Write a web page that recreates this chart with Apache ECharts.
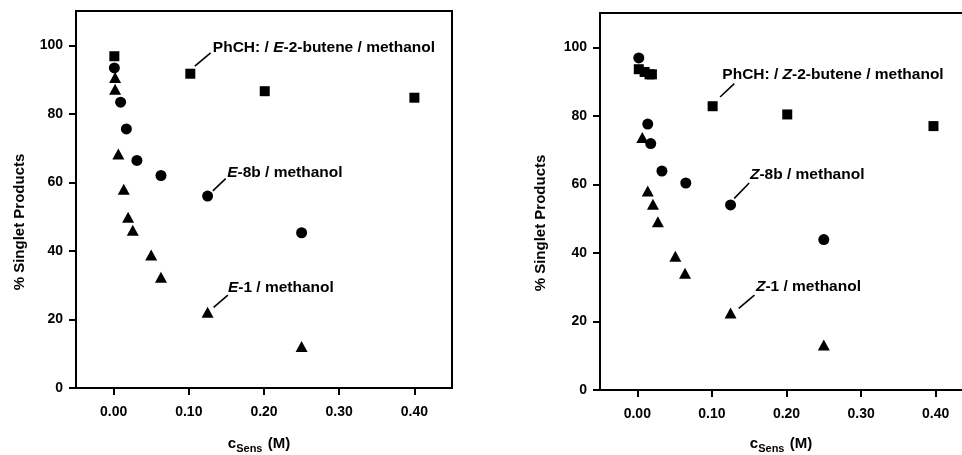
<!DOCTYPE html>
<html>
<head>
<meta charset="utf-8">
<script src="https://cdn.jsdelivr.net/npm/echarts@6/dist/echarts.min.js"></script>
<style>
html,body{margin:0;padding:0;background:#fff;}
#c{width:962px;height:455px;}
</style>
</head>
<body>
<div id="c"></div>
<script>
// ---- data ----
const xTickValues = [0, 0.1, 0.2, 0.3, 0.4];
const yTickValues = [0, 20, 40, 60, 80, 100];
const xRange = [-0.05, 0.45];
const yRange = [0, 110];

// Left panel (E isomers)
const leftSquareX = [0.001, 0.102, 0.201, 0.400];
const leftSquareY = [96.8, 91.7, 86.6, 84.7];
const leftCircleX = [0.001, 0.0093, 0.017, 0.031, 0.063, 0.125, 0.250];
const leftCircleY = [93.4, 83.4, 75.6, 66.4, 62.0, 56.0, 45.3];
const leftTriX = [0.002, 0.002, 0.0063, 0.0135, 0.0193, 0.0255, 0.050, 0.063, 0.125, 0.250];
const leftTriY = [90.6, 87.2, 68.3, 58.0, 49.8, 46.0, 38.8, 32.3, 22.1, 12.1];

// Right panel (Z isomers)
const rightSquareX = [0.002, 0.0098, 0.0164, 0.0196, 0.101, 0.201, 0.397];
const rightSquareY = [93.6, 92.8, 92.1, 92.1, 82.8, 80.4, 77.0];
const rightCircleX = [0.002, 0.014, 0.018, 0.033, 0.065, 0.125, 0.250];
const rightCircleY = [96.9, 77.6, 71.9, 63.9, 60.4, 54.0, 43.9];
const rightTriX = [0.0067, 0.014, 0.021, 0.0276, 0.051, 0.064, 0.125, 0.250];
const rightTriY = [73.7, 58.1, 54.2, 49.1, 39.0, 34.1, 22.5, 13.1];

// Annotation labels: [prefix, italic isomer letter, rest]
const leftLabels = [['PhCH: / ', 'E', '-2-butene / methanol'], ['', 'E', '-8b / methanol'], ['', 'E', '-1 / methanol']];
const rightLabels = [['PhCH: / ', 'Z', '-2-butene / methanol'], ['', 'Z', '-8b / methanol'], ['', 'Z', '-1 / methanol']];
// anchor (data coords) of each label's start
const leftLabelX = [0.132, 0.151, 0.152];
const leftLabelY = [99.4, 62.7, 29.4];
const rightLabelX = [0.114, 0.151, 0.159];
const rightLabelY = [92.1, 62.7, 30.0];
// leader lines (data coords)
const leftLeaderX1 = [0.108, 0.132, 0.133];
const leftLeaderY1 = [93.9, 57.5, 23.5];
const leftLeaderX2 = [0.129, 0.149, 0.152];
const leftLeaderY2 = [97.8, 61.1, 27.1];
const rightLeaderX1 = [0.111, 0.130, 0.136];
const rightLeaderY1 = [85.5, 55.9, 23.8];
const rightLeaderX2 = [0.130, 0.150, 0.157];
const rightLeaderY2 = [89.4, 60.4, 27.7];

const yTitle = '% Singlet Products';

// ---- build ----
const FONT = "'Liberation Sans', Arial, Helvetica, sans-serif";
const zip = (a, b) => a.map((v, i) => [v, b[i]]);

function axesFor(idx) {
  return {
    x: {
      type: 'value', gridIndex: idx, min: xRange[0], max: xRange[1],
      axisLine: { show: true, onZero: false, lineStyle: { color: '#000', width: 2 } },
      axisTick: { show: true, inside: false, length: 7, customValues: xTickValues, lineStyle: { color: '#000', width: 2 } },
      axisLabel: { show: true, customValues: xTickValues, margin: 17, color: '#000', fontFamily: FONT, fontWeight: 'bold', fontSize: 14,
        formatter: v => v.toFixed(2) },
      splitLine: { show: false }
    },
    y: {
      type: 'value', gridIndex: idx, min: yRange[0], max: yRange[1],
      axisLine: { show: true, onZero: false, lineStyle: { color: '#000', width: 2 } },
      axisTick: { show: true, inside: false, length: 7, customValues: yTickValues, lineStyle: { color: '#000', width: 2 } },
      axisLabel: { show: true, customValues: yTickValues, margin: 13, color: '#000', fontFamily: FONT, fontWeight: 'bold', fontSize: 14 },
      splitLine: { show: false }
    }
  };
}

const a0 = axesFor(0), a1 = axesFor(1);

function markerSeries(idx, xs, ys, symbol, size) {
  return { type: 'scatter', xAxisIndex: idx, yAxisIndex: idx, symbol: symbol, symbolSize: size,
    itemStyle: { color: '#000', opacity: 1 }, data: zip(xs, ys), silent: true, z: 5 };
}

function leaderSeries(idx, x1, y1, x2, y2) {
  return x1.map((_, i) => ({
    type: 'line', xAxisIndex: idx, yAxisIndex: idx, symbol: 'none', silent: true,
    lineStyle: { color: '#000', width: 1.6, opacity: 1 },
    data: [[x1[i], y1[i]], [x2[i], y2[i]]]
  }));
}

function labelSeries(idx, xs, ys, labels) {
  return {
    type: 'scatter', xAxisIndex: idx, yAxisIndex: idx, symbolSize: 0, silent: true,
    itemStyle: { opacity: 1, color: '#000' },
    data: xs.map((x, i) => ({ value: [x, ys[i]], name: String(i) })),
    label: {
      show: true, position: 'right', distance: 0, color: '#000', opacity: 1,
      formatter: p => { const l = labels[+p.name]; return (l[0] ? '{n|' + l[0] + '}' : '') + '{i|' + l[1] + '}{n|' + l[2] + '}'; },
      rich: {
        n: { fontFamily: FONT, fontWeight: 'bold', fontSize: 15.5, color: '#000' },
        i: { fontFamily: FONT, fontWeight: 'bold', fontStyle: 'italic', fontSize: 15.5, color: '#000' }
      }
    }
  };
}

const series = [
  markerSeries(0, leftSquareX, leftSquareY, 'rect', 10),
  markerSeries(0, leftCircleX, leftCircleY, 'circle', 11),
  markerSeries(0, leftTriX, leftTriY, 'triangle', [12, 11]),
  markerSeries(1, rightSquareX, rightSquareY, 'rect', 10),
  markerSeries(1, rightCircleX, rightCircleY, 'circle', 11),
  markerSeries(1, rightTriX, rightTriY, 'triangle', [12, 11]),
  ...leaderSeries(0, leftLeaderX1, leftLeaderY1, leftLeaderX2, leftLeaderY2),
  ...leaderSeries(1, rightLeaderX1, rightLeaderY1, rightLeaderX2, rightLeaderY2),
  labelSeries(0, leftLabelX, leftLabelY, leftLabels),
  labelSeries(1, rightLabelX, rightLabelY, rightLabels)
];

function yTitleGraphic(x, y) {
  return { type: 'text', x: x, y: y, rotation: Math.PI / 2,
    style: { text: yTitle, align: 'center', verticalAlign: 'middle', fill: '#000', font: 'bold 15px ' + FONT } };
}
function xTitleGraphic(x, y) {
  return { type: 'text', x: x, y: y,
    style: { text: '{m|c}{s|Sens}{m| (M)}', align: 'center', verticalAlign: 'middle',
      rich: {
        m: { fontFamily: FONT, fontWeight: 'bold', fontSize: 15, fill: '#000', color: '#000' },
        s: { fontFamily: FONT, fontWeight: 'bold', fontSize: 11, fill: '#000', color: '#000', padding: [9, 1, 0, 0] }
      } } };
}

const option = {
  backgroundColor: '#fff',
  animation: false,
  grid: [
    { left: 76, top: 11, width: 376, height: 377, show: true, borderColor: '#000', borderWidth: 2, backgroundColor: 'transparent', outerBoundsMode: 'none', containLabel: false },
    { left: 600, top: 13, width: 373, height: 377, show: true, borderColor: '#000', borderWidth: 2, backgroundColor: 'transparent', outerBoundsMode: 'none', containLabel: false }
  ],
  xAxis: [a0.x, a1.x],
  yAxis: [a0.y, a1.y],
  series: series,
  graphic: [
    yTitleGraphic(20, 222),
    yTitleGraphic(541, 223),
    xTitleGraphic(259, 444),
    xTitleGraphic(781, 444)
  ]
};

const chart = echarts.init(document.getElementById('c'), null, { renderer: 'canvas' });
chart.setOption(option);
</script>
</body>
</html>
